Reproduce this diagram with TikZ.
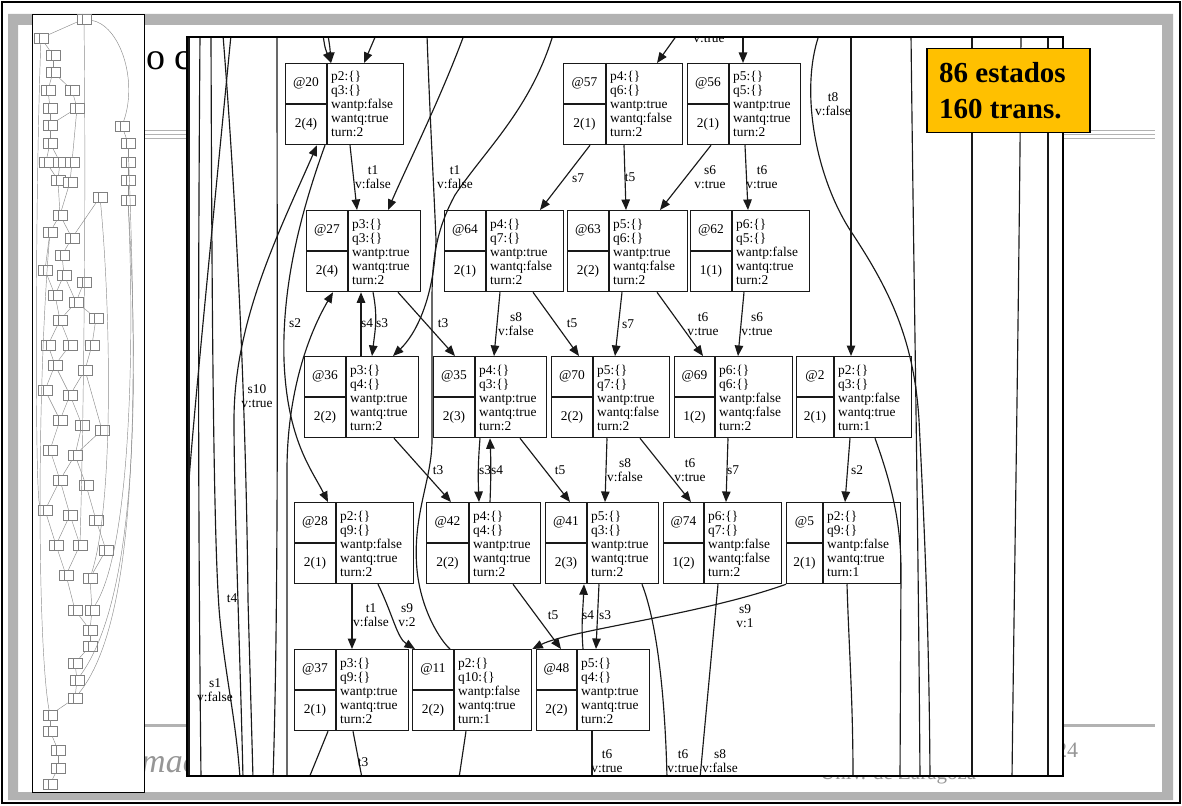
\documentclass[tikz,border=0pt]{standalone}
\usepackage{fontspec}
\setmainfont{Liberation Serif}
\usetikzlibrary{arrows.meta,calc}
\definecolor{gold}{RGB}{255,192,0}
\definecolor{framegray}{RGB}{178,178,178}
\definecolor{ink}{RGB}{25,25,25}
\definecolor{footgray}{RGB}{150,150,150}
\tikzset{
  stbox/.style={draw=ink, line width=1.25pt, minimum height=81pt, inner sep=0pt, anchor=north west},
  boxline/.style={draw=ink, line width=1.25pt},
  gtext/.style={inner sep=0pt, font=\fontsize{13.4}{14}\selectfont},
  glabel/.style={inner sep=0pt, align=center, font=\fontsize{13.4}{14.5}\selectfont},
  gedge/.style={draw=ink, line width=1.15pt},
  garr/.style={gedge, -{Triangle[length=10.5pt,width=8.5pt]}},
  tbox/.style={draw=black!50, line width=0.45pt, fill=white, minimum width=14pt, minimum height=10pt, inner sep=0pt},
  tedge/.style={draw=black!45, line width=0.45pt},
  slidegray/.style={draw=framegray, line width=1pt},
}
\newcommand{\stnode}[8]{%
  \node[stbox, minimum width=#4pt] (#1) at (#2,#3) {};
  \draw[boxline] ([xshift=#5pt]#1.north west) -- ([xshift=#5pt]#1.south west);
  \draw[boxline] ([yshift=-41pt]#1.north west) -- ([xshift=#5pt,yshift=-41pt]#1.north west);
  \node[gtext] (#1id) at ([xshift=#5pt/2, yshift=-20pt]#1.north west) {#6};
  \node[gtext] (#1ct) at ([xshift=#5pt/2, yshift=-61pt]#1.north west) {#7};
  \foreach \lne [count=\kk] in {#8} {\node[gtext, anchor=base west] (#1l\kk) at ([xshift=#5pt+4pt, yshift={-(4pt+14pt*\kk)}]#1.north west) {\lne};}
}
\begin{document}
\begin{tikzpicture}[x=1pt,y=-1pt]
\useasboundingbox (0,0) rectangle (1182,805);
\fill[white] (0,0) rectangle (1182,805);
% slide frame
\draw[black, line width=2pt] (2,2) rectangle (1180,803);
\fill[framegray, even odd rule] (8,14) rectangle (1173,800) (18,25) rectangle (1162,792);
% title and rules
\node[anchor=base west, inner sep=0, font=\fontsize{38}{40}\selectfont] (title) at (146,70) {o c};
\draw[slidegray] (32,131) -- (1155,131);
\draw[slidegray] (32,135) -- (1155,135);
\draw[slidegray] (32,139) -- (1155,139);
\draw[draw=framegray, line width=3pt] (32,725) -- (1155,725);
\node[anchor=base west, inner sep=0, text=footgray, font=\fontsize{22}{24}\selectfont] (pnum) at (1056,757) {24};
\node[anchor=base west, inner sep=0, text=footgray, font=\fontsize{34}{36}\selectfont\itshape] (foot) at (141,772) {mac};
\node[anchor=base west, inner sep=0, text=footgray, font=\fontsize{21}{23}\selectfont] (univ) at (820,779) {Univ. de Zaragoza};
% thumbnail
\node[draw=black, line width=1.2pt, fill=white, minimum width=112pt, minimum height=778pt, anchor=north west, inner sep=0] (thumb) at (32,14) {};
\foreach \x/\y [count=\i] in {84/19, 41/38, 53/55, 53/72, 48/90, 72/90, 50/108, 77/108, 50/125, 122/126, 50/143, 128/143, 46/162, 60/162, 72/162, 128/162, 58/180, 70/182, 128/180, 100/197, 128/200, 60/215, 50/232, 72/238, 62/255, 45/270, 64/275, 84/282, 55/295, 76/302, 96/318, 60/320, 48/345, 70/345, 92/345, 55/365, 85/370, 45/390, 70/395, 60/420, 82/425, 102/430, 50/450, 75/455, 60/480, 86/485, 45/510, 70/515, 96/520, 56/545, 80/545, 106/550, 66/575, 90/578, 75/610, 92/610, 90/630, 90/646, 75/663, 77/680, 75/698, 50/715, 50/731, 58/750, 58/768, 50/784}
  {\node[tbox] (t\i) at (\x,\y) {}; \draw[black!50, line width=0.3pt] (\x-2,\y-5) -- (\x-2,\y+5);}
\foreach \a/\b in {1/2, 2/3, 3/4, 4/5, 4/6, 5/7, 6/8, 7/9, 8/9, 9/11, 11/13, 11/14, 8/15, 13/17, 14/17, 15/18, 10/12, 12/16, 16/19, 19/21, 17/22, 18/22, 20/24, 22/23, 22/24, 23/26, 24/25, 25/27, 26/29, 27/29, 27/30, 28/30, 29/32, 30/31, 30/32, 32/33, 32/34, 31/35, 33/36, 34/36, 35/37, 36/38, 36/39, 37/39, 38/40, 39/40, 39/41, 37/42, 40/43, 41/44, 42/44, 43/45, 44/45, 44/46, 45/47, 45/48, 46/49, 47/50, 48/50, 48/51, 49/52, 50/53, 51/53, 52/54, 53/55, 54/56, 55/57, 56/57, 57/58, 58/59, 59/60, 60/61, 61/62, 62/63, 63/64, 64/65, 65/66}
  {\draw[tedge] (t\a) -- (t\b);}
\draw[tedge] (t1) .. controls (86,200) and (84,400) .. (t51);
\draw[tedge] (t10) .. controls (138,80) and (120,25) .. (t1);
\draw[tedge] (t21) .. controls (135,350) and (130,550) .. (t56);
\draw[tedge] (t21) .. controls (140,400) and (135,600) .. (t60);
\draw[tedge] (t12) .. controls (138,400) and (138,620) .. (t61);
\draw[tedge] (t2) .. controls (35,200) and (35,500) .. (t47);
\draw[tedge] (t23) .. controls (36,400) and (38,650) .. (t62);
\draw[tedge] (t20) .. controls (110,300) and (115,500) .. (t54);
% graph panel
\fill[white] (187,37) rectangle (1063,776);
\begin{scope}
\clip (187,37) rectangle (1063,776);
\stnode{n20}{285}{63}{118}{42}{@20}{2(4)}{p2:\{\},q3:\{\},wantp:false,wantq:true,turn:2}
\stnode{n57}{563}{63}{119}{43}{@57}{2(1)}{p4:\{\},q6:\{\},wantp:true,wantq:false,turn:2}
\stnode{n56}{687}{63}{113}{42}{@56}{2(1)}{p5:\{\},q5:\{\},wantp:true,wantq:true,turn:2}
\stnode{n27}{306}{210}{114}{42}{@27}{2(4)}{p3:\{\},q3:\{\},wantp:true,wantq:true,turn:2}
\stnode{n64}{444}{210}{119}{42}{@64}{2(1)}{p4:\{\},q7:\{\},wantp:true,wantq:false,turn:2}
\stnode{n63}{567}{210}{120}{42}{@63}{2(2)}{p5:\{\},q6:\{\},wantp:true,wantq:false,turn:2}
\stnode{n62}{690}{210}{119}{42}{@62}{1(1)}{p6:\{\},q5:\{\},wantp:false,wantq:true,turn:2}
\stnode{n36}{304}{356}{114}{42}{@36}{2(2)}{p3:\{\},q4:\{\},wantp:true,wantq:true,turn:2}
\stnode{n35}{433}{356}{113}{42}{@35}{2(3)}{p4:\{\},q3:\{\},wantp:true,wantq:true,turn:2}
\stnode{n70}{551}{356}{118}{42}{@70}{2(2)}{p5:\{\},q7:\{\},wantp:true,wantq:false,turn:2}
\stnode{n69}{674}{356}{118}{41}{@69}{1(2)}{p6:\{\},q6:\{\},wantp:false,wantq:false,turn:2}
\stnode{n2}{796}{356}{115}{38}{@2}{2(1)}{p2:\{\},q3:\{\},wantp:false,wantq:true,turn:1}
\stnode{n28}{294}{502}{119}{42}{@28}{2(1)}{p2:\{\},q9:\{\},wantp:false,wantq:true,turn:2}
\stnode{n42}{426}{502}{114}{43}{@42}{2(2)}{p4:\{\},q4:\{\},wantp:true,wantq:true,turn:2}
\stnode{n41}{545}{502}{113}{42}{@41}{2(3)}{p5:\{\},q3:\{\},wantp:true,wantq:true,turn:2}
\stnode{n74}{663}{502}{118}{41}{@74}{1(2)}{p6:\{\},q7:\{\},wantp:false,wantq:false,turn:2}
\stnode{n5}{786}{502}{114}{37}{@5}{2(1)}{p2:\{\},q9:\{\},wantp:false,wantq:true,turn:1}
\stnode{n37}{294}{649}{114}{42}{@37}{2(1)}{p3:\{\},q9:\{\},wantp:true,wantq:true,turn:2}
\stnode{n11}{412}{649}{119}{42}{@11}{2(2)}{p2:\{\},q10:\{\},wantp:false,wantq:true,turn:1}
\stnode{n48}{536}{649}{113}{41}{@48}{2(2)}{p5:\{\},q4:\{\},wantp:true,wantq:true,turn:2}
% free ends
\coordinate (f1) at (851,35);
\coordinate (f2) at (323,35);
\coordinate (f3) at (328,35);
\coordinate (f4) at (376,35);
\coordinate (f5) at (464,35);
\coordinate (f6) at (427,35);
\coordinate (f7) at (553,35);
\coordinate (f8) at (677,35);
\coordinate (f9) at (743,35);
\coordinate (f10) at (819,35);
\coordinate (f11) at (911,35);
\coordinate (f12) at (972,35);
\coordinate (f13) at (1021,35);
\coordinate (f14) at (1048,35);
\coordinate (f15) at (189,35);
\coordinate (f16) at (200,35);
\coordinate (f17) at (211,35);
\coordinate (f18) at (223,35);
\coordinate (f19) at (231,35);
\coordinate (f20) at (277,35);
\coordinate (b1) at (667,778);
\coordinate (b2) at (700,778);
\coordinate (b3) at (592,778);
\coordinate (b4) at (309,778);
\coordinate (b5) at (362,778);
\coordinate (b6) at (459,778);
\coordinate (b7) at (900,778);
\coordinate (b8) at (853,778);
\coordinate (b9) at (930,778);
\coordinate (b10) at (920,778);
\coordinate (b11) at (243,778);
\coordinate (b12) at (287,778);
\coordinate (b13) at (972,778);
\coordinate (b14) at (1012,778);
\coordinate (b15) at (1048,778);
\coordinate (b16) at (189,778);
\coordinate (b17) at (201,778);
\coordinate (b18) at (240,778);
\coordinate (b19) at (253,778);
\coordinate (b20) at (273,778);
\coordinate (b21) at (189,480);
% row 1 -> row 2
\draw[garr] ([xshift=65pt]n20.south west) -- ([xshift=51pt]n27.north west);
\draw[garr] ([xshift=27pt]n57.south west) -- ([xshift=96pt]n64.north west);
\draw[garr] ([xshift=61pt]n57.south west) -- ([xshift=59pt]n63.north west);
\draw[garr] ([xshift=24pt]n56.south west) -- ([xshift=93pt]n63.north west);
\draw[garr] ([xshift=58pt]n56.south west) -- ([xshift=58pt]n62.north west);
% row 2 -> row 3
\draw[garr] ([xshift=57pt]n36.north west) -- ([xshift=55pt]n27.south west);
\draw[garr] ([xshift=67pt]n27.south west) .. controls +(5,25) and +(3,-25) .. ([xshift=68pt]n36.north west);
\draw[garr] ([xshift=92pt]n27.south west) -- ([xshift=22pt]n35.north west);
\draw[garr] ([xshift=56pt]n64.south west) -- ([xshift=61pt]n35.north west);
\draw[garr] ([xshift=89pt]n64.south west) -- ([xshift=28pt]n70.north west);
\draw[garr] ([xshift=55pt]n63.south west) -- ([xshift=64pt]n70.north west);
\draw[garr] ([xshift=90pt]n63.south west) -- ([xshift=29pt]n69.north west);
\draw[garr] ([xshift=54pt]n62.south west) -- ([xshift=64pt]n69.north west);
\draw[garr] (f1) -- ([xshift=55pt]n2.north west);
% row 3 -> row 4
\draw[garr] ([xshift=90pt]n36.south west) -- ([xshift=25pt]n42.north west);
\draw[garr] ([xshift=47pt]n35.south west) .. controls +(-2,25) and +(-1,-25) .. ([xshift=53pt]n42.north west);
\draw[garr] ([xshift=64pt]n42.north west) .. controls +(1,-25) and +(1,25) .. ([xshift=57pt]n35.south west);
\draw[garr] ([xshift=87pt]n35.south west) -- ([xshift=25pt]n41.north west);
\draw[garr] ([xshift=56pt]n70.south west) -- ([xshift=60pt]n41.north west);
\draw[garr] ([xshift=89pt]n70.south west) -- ([xshift=28pt]n74.north west);
\draw[garr] ([xshift=54pt]n69.south west) -- ([xshift=63pt]n74.north west);
\draw[garr] ([xshift=54pt]n2.south west) -- ([xshift=59pt]n5.north west);
% row 4 -> row 5
\draw[garr] ([xshift=58pt]n28.south west) -- ([xshift=58pt]n37.north west);
\draw[garr] ([xshift=84pt]n28.south west) .. controls (393,615) and (397,638) .. ([xshift=3pt]n11.north west);
\draw[garr] ([xshift=87pt]n42.south west) -- ([xshift=25pt]n48.north west);
\draw[garr] ([xshift=47pt]n48.north west) .. controls +(-2,-25) and +(-1,25) .. ([xshift=39pt]n41.south west);
\draw[garr] ([xshift=54pt]n41.south west) -- ([xshift=60pt]n48.north west);
\draw[garr] (n5.south west) .. controls (700,615) and (570,630) .. (n11.north east);
% edges leaving at the bottom
\draw[gedge] ([xshift=97pt]n41.south west) .. controls (656,620) and (665,690) .. (b1);
\draw[gedge] ([xshift=55pt]n74.south west) -- (b2);
\draw[gedge] ([xshift=56pt]n48.south west) -- (b3);
\draw[gedge] ([xshift=34pt]n37.south west) -- (b4);
\draw[gedge] ([xshift=59pt]n37.south west) -- (b5);
\draw[gedge] ([xshift=54pt]n11.south west) -- (b6);
\draw[gedge] ([xshift=79pt]n2.south west) .. controls (890,480) and (901,520) .. (901,570) -- (b7);
\draw[gedge] ([xshift=61pt]n5.south west) .. controls (849,650) and (853,700) .. (b8);
% edges entering from the top
\draw[garr] (f2) .. controls (325,48) .. ([xshift=46pt]n20.north west);
\draw[garr] (f3) .. controls (330,48) .. ([xshift=46pt]n20.north west);
\draw[garr] (f4) -- ([xshift=79pt]n20.north west);
\draw[garr] (f5) .. controls (440,100) and (405,170) .. ([xshift=82pt]n27.north west);
\draw[garr] (f6) .. controls (430,120) and (434,190) .. (436,240) .. controls (434,300) and (415,335) .. ([xshift=89pt]n36.north west);
\draw[gedge] (f7) .. controls (530,110) and (485,150) .. (455,195) .. controls (436,230) and (432,260) .. (432,300) -- (432,440) .. controls (432,480) and (412,515) .. (417,570) .. controls (421,610) and (440,640) .. ([xshift=38pt]n11.north west);
\draw[garr] (f8) -- ([xshift=94pt]n57.north west);
\draw[garr] (f9) -- ([xshift=56pt]n56.north west);
% long lines on the right
\draw[gedge] (f10) .. controls (800,90) and (815,175) .. (850,230) .. controls (890,290) and (914,340) .. (919,420) .. controls (924,520) and (929,620) .. (b9);
\draw[gedge] (f11) .. controls (914,300) and (918,500) .. (b10);
\draw[gedge] (f12) -- (b13);
\draw[gedge] (f13) .. controls (1019,300) and (1014,600) .. (b14);
\draw[gedge] (f14) -- (b15);
% long lines on the left
\draw[gedge] (f15) -- (b16);
\draw[gedge] (f16) .. controls (198,300) and (198,500) .. (b17);
\draw[gedge] (f17) .. controls (212,350) and (214,560) .. (220,620) .. controls (226,680) and (236,720) .. (b18);
\draw[gedge] (f18) .. controls (236,200) and (246,400) .. (248,600) -- (b19);
\draw[gedge] (f19) .. controls (215,200) and (195,400) .. (b21);
\draw[gedge] (f20) .. controls (277,300) and (279,600) .. (b20);
\draw[garr] (b11) .. controls (240,650) and (234,500) .. (234,420) .. controls (234,320) and (280,230) .. ([xshift=32pt]n20.south west);
\draw[garr] ([xshift=40pt]n20.south west) .. controls (298,220) and (282,290) .. (284,360) .. controls (287,440) and (312,470) .. ([xshift=34pt]n28.north west);
\draw[garr] (b12) -- (287,470) .. controls (287,400) and (305,340) .. ([xshift=27pt]n27.south west);
% edge labels
\node[glabel] (L1) at (373,177) {t1\\v:false};
\node[glabel] (L2) at (455,177) {t1\\v:false};
\node[glabel] (L3) at (578,178) {s7};
\node[glabel] (L4) at (630,177) {t5};
\node[glabel] (L5) at (710,177) {s6\\v:true};
\node[glabel] (L6) at (762,177) {t6\\v:true};
\node[glabel] (L7) at (833,104) {t8\\v:false};
\node[glabel] (L8) at (709,39) {v:true};
\node[glabel] (L9) at (295,323) {s2};
\node[glabel] (L10) at (367,323) {s4};
\node[glabel] (L11) at (382,323) {s3};
\node[glabel] (L12) at (443,323) {t3};
\node[glabel] (L13) at (516,324) {s8\\v:false};
\node[glabel] (L14) at (572,323) {t5};
\node[glabel] (L15) at (628,324) {s7};
\node[glabel] (L16) at (703,324) {t6\\v:true};
\node[glabel] (L17) at (757,324) {s6\\v:true};
\node[glabel] (L18) at (257,396) {s10\\v:true};
\node[glabel] (L19) at (438,470) {t3};
\node[glabel] (L20) at (485,470) {s3};
\node[glabel] (L21) at (497,470) {s4};
\node[glabel] (L22) at (560,470) {t5};
\node[glabel] (L23) at (625,470) {s8\\v:false};
\node[glabel] (L24) at (690,470) {t6\\v:true};
\node[glabel] (L25) at (733,470) {s7};
\node[glabel] (L26) at (857,470) {s2};
\node[glabel] (L27) at (232,598) {t4};
\node[glabel] (L28) at (371,615) {t1\\v:false};
\node[glabel] (L29) at (407,615) {s9\\v:2};
\node[glabel] (L30) at (553,615) {t5};
\node[glabel] (L31) at (588,615) {s4};
\node[glabel] (L32) at (605,615) {s3};
\node[glabel] (L33) at (745,616) {s9\\v:1};
\node[glabel] (L34) at (215,690) {s1\\v:false};
\node[glabel] (L35) at (363,762) {t3};
\node[glabel] (L36) at (607,761) {t6\\v:true};
\node[glabel] (L37) at (683,761) {t6\\v:true};
\node[glabel] (L38) at (720,761) {s8\\v:false};
\end{scope}
\draw[black, line width=2pt] (187,37) rectangle (1063,776);
% statistics box
\node[draw=black, line width=1.5pt, fill=gold, minimum width=163pt, minimum height=84pt, anchor=north west, inner sep=0] (stats) at (926,48) {};
\node[anchor=base west, inner sep=0, font=\fontsize{29}{36}\selectfont\bfseries] (st1) at (939,83) {86 estados};
\node[anchor=base west, inner sep=0, font=\fontsize{29}{36}\selectfont\bfseries] (st2) at (939,119) {160 trans.};
\end{tikzpicture}
\end{document}
